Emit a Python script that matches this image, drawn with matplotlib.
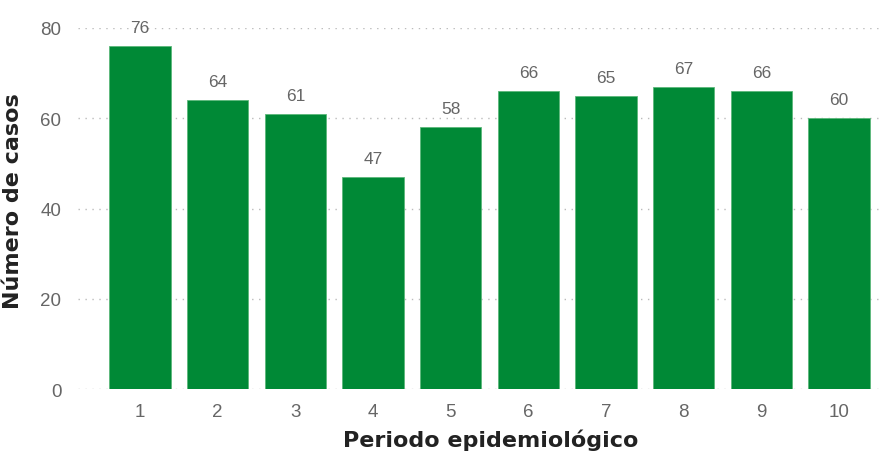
import matplotlib

matplotlib.use("Agg")
import matplotlib.pyplot as plt

periodos = ["1", "2", "3", "4", "5", "6", "7", "8", "9", "10"]
casos = [76, 64, 61, 47, 58, 66, 65, 67, 66, 60]

plt.rcParams["font.family"] = ["Liberation Sans", "DejaVu Sans"]

fig = plt.figure(figsize=(8.91, 4.6), dpi=100)
ax = fig.add_axes([0.0875, 0.152, 0.902, 0.785])

x = list(range(1, len(periodos) + 1))
bars = ax.bar(x, casos, width=0.79, color="#008936", edgecolor="#5cb87a", linewidth=0.6, zorder=3)

for bar, val in zip(bars, casos):
    ax.annotate(
        f"{val}",
        (bar.get_x() + bar.get_width() / 2, bar.get_height()),
        xytext=(0, 8),
        textcoords="offset points",
        ha="center",
        va="bottom",
        fontsize=12.5,
        color="#666666",
    )

ax.set_xlim(0.2, 10.55)
ax.set_ylim(0, 80)
ax.set_yticks([0, 20, 40, 60, 80])
ax.set_xticks(x)
ax.set_xticklabels(periodos)
ax.tick_params(axis="both", length=0, labelsize=13.5, colors="#666666")
ax.tick_params(axis="y", pad=12)
ax.tick_params(axis="x", pad=10)
ax.grid(True, axis="y", linestyle=(0, (1, 4)), color="#bbbbbb", linewidth=1, zorder=0)
for s in ax.spines.values():
    s.set_visible(False)

label_font = dict(family="DejaVu Sans", fontsize=16, fontweight="bold", color="#222222")
ax.set_xlabel("Periodo epidemiológico", **label_font)
ax.set_ylabel("Número de casos", **label_font)
ax.xaxis.set_label_coords(0.514, -0.108)
ax.yaxis.set_label_coords(-0.068, 0.524)

fig.savefig("out.png", dpi=100)
